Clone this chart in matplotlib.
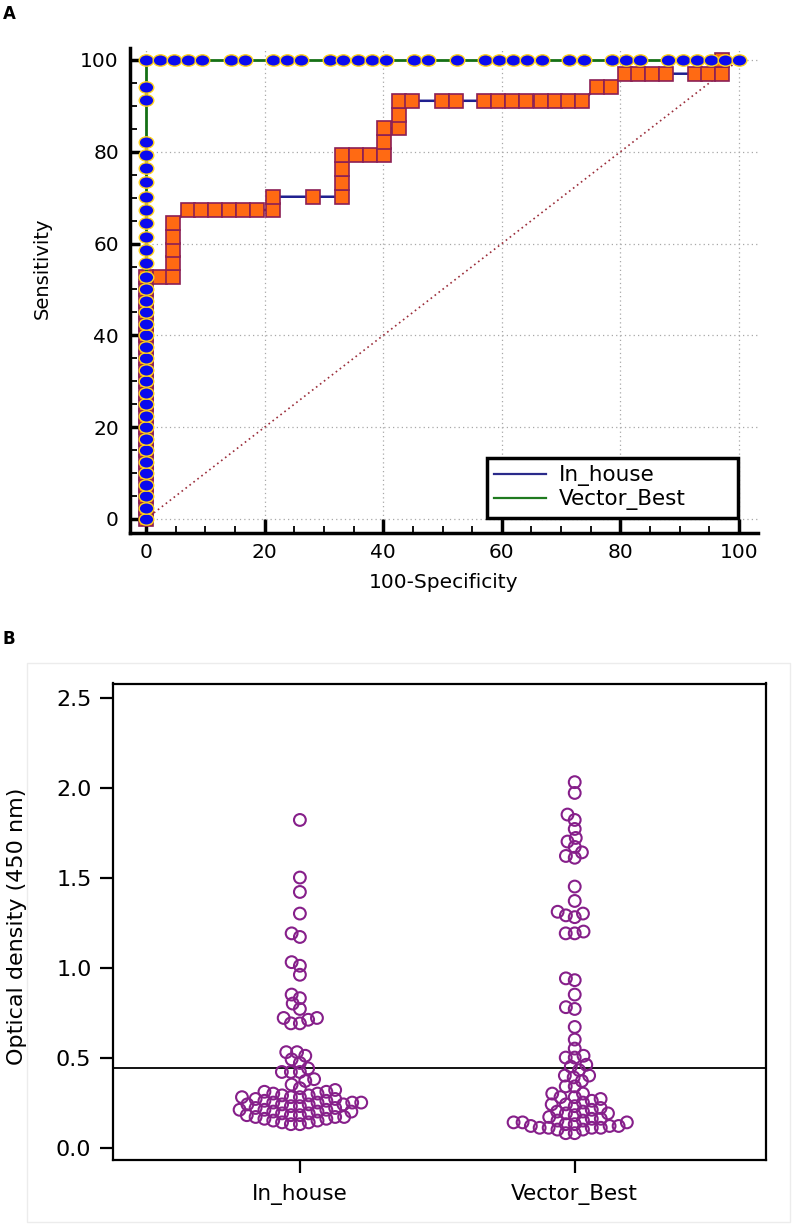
import matplotlib
matplotlib.use('Agg')
import matplotlib.pyplot as plt
import numpy as np
from matplotlib.lines import Line2D
from matplotlib.patches import Rectangle
from matplotlib.path import Path
from matplotlib.transforms import Affine2D
from matplotlib.ticker import MultipleLocator

# ROC curves: 100-specificity vs sensitivity
inhouse_fpr = [0, 0, 0, 0, 0, 0, 0, 0, 0, 0, 0, 0, 0, 0, 0, 0, 0, 0, 0, 0, 0, 0,
               2.3, 4.6, 4.6, 4.6, 4.6, 4.6, 7.0, 9.3, 11.7, 14.0, 16.4, 18.8, 21.4, 21.4, 28.2,
               33.0, 33.0, 33.0, 33.0, 35.4, 37.8, 40.2, 40.2, 40.2, 42.6, 42.6, 42.6, 44.9, 49.9,
               52.3, 57.0, 59.4, 61.8, 64.1, 66.6, 68.9, 71.2, 73.6, 76.0, 78.4, 80.7, 83.0, 85.3,
               87.7, 92.5, 94.8, 97.2, 97.2, 100]
inhouse_tpr = [0, 2.5, 5, 7.5, 10, 12.5, 15, 17.5, 20, 22.5, 25, 27.5, 30, 32.5, 35, 37.5, 40,
               42.5, 45, 47.5, 50, 52.8,
               52.8, 52.8, 55.7, 58.6, 61.5, 64.4, 67.3, 67.3, 67.3, 67.3, 67.3, 67.3, 67.3, 70.2, 70.2,
               70.2, 73.3, 76.2, 79.2, 79.2, 79.2, 79.2, 82.2, 85.1, 85.1, 88.1, 91.1, 91.1, 91.1,
               91.1, 91.1, 91.1, 91.1, 91.1, 91.1, 91.1, 91.1, 91.1, 94.0, 94.0, 97.0, 97.0, 97.0,
               97.0, 97.0, 97.0, 97.0, 100, 100]

vector_fpr = [0] * 35 + [2.4, 4.8, 7.1, 9.5, 14.3, 16.7, 21.4, 23.8, 26.2, 31.0, 33.3, 35.7,
                         38.1, 40.5, 45.2, 47.6, 52.4, 57.1, 59.5, 61.9, 64.3, 66.7, 71.4, 73.8,
                         78.6, 81.0, 83.3, 88.1, 90.5, 92.9, 95.2, 97.6, 100]
vector_tpr = [0, 2.5, 5, 7.5, 10, 12.5, 15, 17.5, 20, 22.5, 25, 27.5, 30, 32.5, 35, 37.5, 40,
              42.5, 45, 47.5, 50, 52.8, 55.7, 58.6, 61.5, 64.4, 67.3, 70.2, 73.5, 76.4, 79.3,
              82.2, 91.3, 94.0, 100] + [100] * 33

roc_names = ['In_house', 'Vector_Best']

# optical density (450 nm) per kit
groups = ['In_house', 'Vector_Best']
od_inhouse = [1.82, 1.50, 1.42, 1.30, 1.19, 1.17, 1.03, 1.01, 0.96, 0.85, 0.83, 0.80, 0.77,
              0.72, 0.72, 0.71, 0.69, 0.69,
              0.53, 0.53, 0.51, 0.49, 0.47, 0.44, 0.42, 0.42, 0.42, 0.38, 0.37, 0.35, 0.33,
              0.32, 0.31, 0.31, 0.30, 0.30, 0.29, 0.29, 0.28, 0.28, 0.28, 0.27,
              0.27, 0.26, 0.26, 0.25, 0.25, 0.25, 0.25, 0.24, 0.24, 0.24, 0.24,
              0.23, 0.23, 0.22, 0.22, 0.21, 0.21, 0.21, 0.20, 0.20, 0.20,
              0.19, 0.19, 0.18, 0.18, 0.18, 0.17, 0.17, 0.17, 0.16, 0.16,
              0.15, 0.15, 0.14, 0.14, 0.13, 0.13]
od_vector = [2.03, 1.97, 1.85, 1.82, 1.77, 1.72, 1.70, 1.67, 1.64, 1.62, 1.61, 1.45, 1.37,
             1.31, 1.30, 1.29, 1.28, 1.20, 1.19, 1.19,
             0.94, 0.93, 0.85, 0.78, 0.77, 0.67, 0.60, 0.55,
             0.51, 0.50, 0.50, 0.46, 0.45, 0.43, 0.40, 0.40, 0.39, 0.37, 0.34, 0.34,
             0.30, 0.30, 0.28, 0.28, 0.27, 0.26, 0.25, 0.24, 0.24, 0.23, 0.22,
             0.21, 0.20, 0.20, 0.19, 0.19, 0.18, 0.17, 0.16, 0.16, 0.15, 0.15,
             0.14, 0.14, 0.14, 0.13, 0.13, 0.12, 0.12, 0.12, 0.11, 0.11, 0.11, 0.11,
             0.10, 0.10, 0.08, 0.08]
cutoff = 0.443


def swarm(values, diam, px_per_unit):
    """Greedy beeswarm: x offsets (px) so circles of diam px don't collide."""
    ys = np.asarray(values, dtype=float) * px_per_unit
    xs = np.zeros(len(ys))
    placed = []
    for i in np.argsort(ys, kind='stable'):
        y = ys[i]
        near = [(px, py) for px, py in placed if abs(py - y) < diam]
        cands = [0.0]
        for px, py in near:
            dx = np.sqrt(diam ** 2 - (py - y) ** 2)
            cands += [px - dx, px + dx]
        for c in sorted(cands, key=abs):
            if all((c - px) ** 2 + (y - py) ** 2 >= diam ** 2 - 1e-6 for px, py in near):
                break
        xs[i] = c
        placed.append((c, y))
    return xs


plt.rcParams['font.family'] = ['DejaVu Sans']
W, H = 800, 1231
fig = plt.figure(figsize=(W / 100, H / 100), dpi=100)

# ---------- panel A: ROC ----------
ax = fig.add_axes([130 / W, 1 - 533 / H, 628 / W, 485 / H])
ax.set_xlim(-2.7, 103.2)
ax.set_ylim(-3.05, 102.6)
for s in ['top', 'right']:
    ax.spines[s].set_visible(False)
for s in ['left', 'bottom']:
    ax.spines[s].set_linewidth(2.5)
ax.set_xticks([0, 20, 40, 60, 80, 100])
ax.set_yticks([0, 20, 40, 60, 80, 100])
ax.xaxis.set_minor_locator(MultipleLocator(5))
ax.yaxis.set_minor_locator(MultipleLocator(5))
ax.tick_params(which='major', direction='in', labelsize=14.5, width=2.5)
ax.tick_params(axis='x', which='major', length=10, pad=7)
ax.tick_params(axis='y', which='major', length=7, pad=8)
ax.tick_params(which='minor', direction='in', length=5, width=1.3)
ax.grid(True, which='major', linestyle=(0, (1, 2.5)), color='#a8a8a8', lw=0.9)
ax.set_axisbelow(True)

ax.plot([0, 100], [0, 100], linestyle=(0, (1, 2)), color='#9b2d3a', lw=1.2, zorder=2)

ax.plot(inhouse_fpr, inhouse_tpr, color='#1f1f8f', lw=1.8, marker='s', ms=9.5,
        mfc='#ff6a13', mec='#8b1f55', mew=1.2, zorder=3,
        markevery=list(range(len(inhouse_fpr) - 1)))
ellipse = Path.unit_circle().transformed(Affine2D().scale(1.0, 0.78))
ax.plot(vector_fpr, vector_tpr, color='#157015', lw=2, marker=ellipse, ms=10.5,
        mfc='#0a0aee', mec='#ffd21a', mew=1.0, zorder=4)

handles = [Line2D([], [], color='#2a2a8a', lw=1.6), Line2D([], [], color='#1f7a1f', lw=1.6)]
leg = ax.legend(handles, roc_names, loc='lower left', bbox_to_anchor=(0.568, 0.031, 0.40, 0.13),
                mode='expand', borderaxespad=0, fontsize=15.5, handlelength=2.4,
                handletextpad=0.6, labelspacing=0.15, borderpad=0.35, fancybox=False,
                framealpha=1, edgecolor='black')
leg.get_frame().set_linewidth(2.5)

ax.set_xlabel('100-Specificity', fontsize=14.5, labelpad=8)
ax.set_ylabel('Sensitivity', fontsize=14)
ax.yaxis.set_label_coords(-0.124, 0.545)

fig.text(3 / W, 1 - 5 / H, 'A', fontsize=12, fontweight='bold', va='top', ha='left')
fig.text(2 / W, 1 - 630 / H, 'B', fontsize=12, fontweight='bold', va='top', ha='left')

# ---------- panel B: dot plot ----------
fig.add_artist(Rectangle((27 / W, 1 - 1222 / H), 763 / W, 559 / H, transform=fig.transFigure,
                         fill=False, edgecolor='#ececec', lw=1))

bx_px = [113, 766]
by_px = [683.5, 1160]
bx = fig.add_axes([bx_px[0] / W, 1 - by_px[1] / H, (bx_px[1] - bx_px[0]) / W,
                   (by_px[1] - by_px[0]) / H])
xlim = (0.32, 2.696)
ylim = (-0.069, 2.578)
bx.set_xlim(*xlim)
bx.set_ylim(*ylim)
y_ppu = (by_px[1] - by_px[0]) / (ylim[1] - ylim[0])
x_upp = (xlim[1] - xlim[0]) / (bx_px[1] - bx_px[0])

for pos, vals in zip([1, 2], [od_inhouse, od_vector]):
    offs = swarm(vals, 9.0, y_ppu)
    bx.scatter(pos + offs * x_upp, vals, s=72, facecolors='none', edgecolors='#861f8a',
               linewidths=1.5, zorder=3)

bx.axhline(cutoff, color='black', lw=1.3, zorder=2)

for s in bx.spines.values():
    s.set_linewidth(1.6)
bx.set_xticks([1, 2])
bx.set_xticklabels(groups)
yt = [0, 0.5, 1.0, 1.5, 2.0, 2.5]
bx.set_yticks(yt)
bx.set_yticklabels([f'{v:.1f}' for v in yt])
bx.tick_params(direction='out', width=1.6, labelsize=16)
bx.tick_params(axis='y', length=9.5, pad=6)
bx.tick_params(axis='x', length=9, pad=8, labelsize=15.5)
bx.set_ylabel('Optical density (450 nm)', fontsize=16)
bx.yaxis.set_label_coords(-0.131, 0.49)

fig.savefig('out.png', dpi=100)
